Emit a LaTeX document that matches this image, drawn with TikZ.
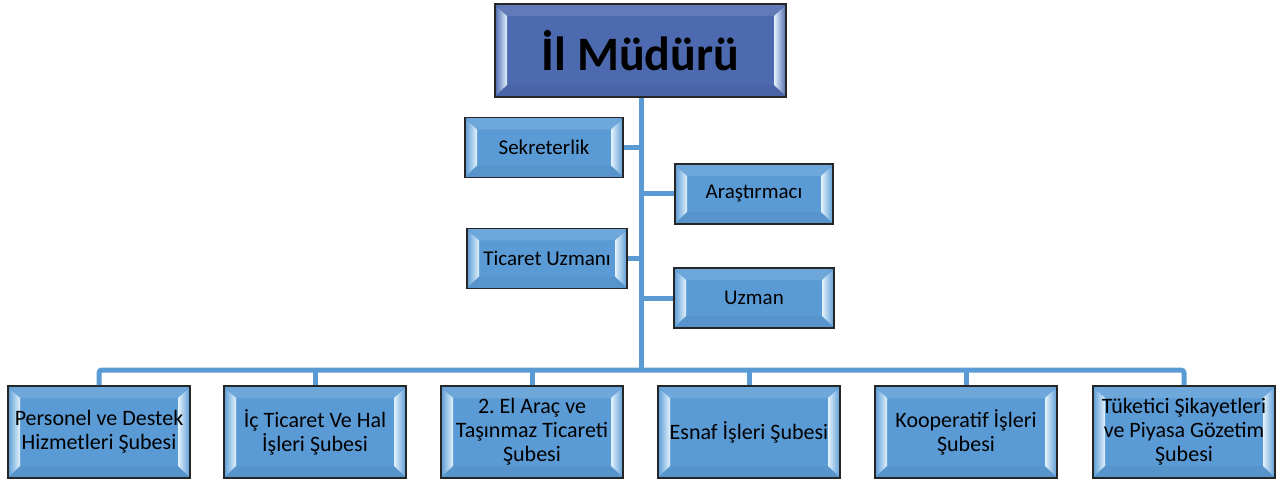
\documentclass[tikz,border=0pt]{standalone}
\usepackage{fontspec}
\setmainfont{Carlito}
\frenchspacing

\definecolor{unitblue}{HTML}{5B9BD5}
\definecolor{headblue}{HTML}{4D69AF}
\definecolor{bevelhi}{HTML}{E4F3FC}
\definecolor{linkblue}{HTML}{5B9BD5}

\tikzset{
  bevelbox/.style={draw=black!85, line width=1.6pt, fill=#1, inner sep=1pt, align=flush center,
    path picture={
      \fill[#1!85!black, opacity=0.3]
        ([yshift=-1pt]path picture bounding box.south west)
        -- ([xshift=12pt,yshift=12pt]path picture bounding box.south west)
        -- ([xshift=-12pt,yshift=12pt]path picture bounding box.south east)
        -- ([yshift=-1pt]path picture bounding box.south east) -- cycle;
      \fill[white, opacity=0.12]
        ([yshift=1pt]path picture bounding box.north west)
        -- ([xshift=12pt,yshift=-12pt]path picture bounding box.north west)
        -- ([xshift=-12pt,yshift=-12pt]path picture bounding box.north east)
        -- ([yshift=1pt]path picture bounding box.north east) -- cycle;
      \shade[left color=#1, right color=bevelhi]
        ([xshift=0pt,yshift=-1pt]path picture bounding box.north west)
        -- ([xshift=12pt,yshift=-12pt]path picture bounding box.north west)
        -- ([xshift=12pt,yshift=12pt]path picture bounding box.south west)
        -- ([xshift=0pt,yshift=1pt]path picture bounding box.south west) -- cycle;
      \shade[left color=bevelhi, right color=#1]
        ([xshift=0pt,yshift=-1pt]path picture bounding box.north east)
        -- ([xshift=-12pt,yshift=-12pt]path picture bounding box.north east)
        -- ([xshift=-12pt,yshift=12pt]path picture bounding box.south east)
        -- ([xshift=0pt,yshift=1pt]path picture bounding box.south east) -- cycle;
    }},
  unit/.style={bevelbox=unitblue, font=\fontsize{21}{24}\selectfont},
  staff/.style={unit, minimum width=158pt, minimum height=60pt},
  branch/.style={unit, font=\fontsize{22}{24}\selectfont, minimum width=182pt, minimum height=92pt, text width=180pt},
  link/.style={draw=linkblue, line width=5pt},
}

\begin{document}
\begin{tikzpicture}[x=1pt,y=-1pt]
\useasboundingbox (0,0) rectangle (1277,481);

% top
\node[bevelbox=headblue, minimum width=291pt, minimum height=93pt,
      font=\fontsize{48}{52}\selectfont\bfseries] (mudur) at (640.5,50.5) {İl Müdürü};

% staff units
\node[staff] (sekreter)    at (544,147.5) {Sekreterlik};
\node[staff] (arastirmaci) at (754,194)   {Araştırmacı};
\node[staff, minimum width=160pt] (ticuzman) at (547,258.5) {Ticaret Uzmanı};
\node[staff, minimum width=160pt] (uzman)    at (754,298)   {Uzman};

% branches
\node[branch] (sube1) at (99,432)   {Personel ve Destek\\Hizmetleri Şubesi};
\node[branch] (sube2) at (315,432)  {İç Ticaret Ve Hal\\İşleri Şubesi};
\node[branch] (sube3) at (532,432)  {2. El Araç ve\\Taşınmaz Ticareti\\Şubesi};
\node[branch] (sube4) at (749,432)  {Esnaf İşleri Şubesi};
\node[branch] (sube5) at (966,432)  {Kooperatif İşleri\\Şubesi};
\node[branch] (sube6) at (1184,432) {Tüketici Şikayetleri\\ve Piyasa Gözetim\\Şubesi};

\coordinate (bus) at (641,370);

\draw[link] (mudur.south -| bus) -- (bus);
\draw[link] (sekreter.east) -- (sekreter.east -| bus);
\draw[link] (ticuzman.east) -- (ticuzman.east -| bus);
\draw[link] (arastirmaci.west) -- (arastirmaci.west -| bus);
\draw[link] (uzman.west) -- (uzman.west -| bus);
\draw[link, rounded corners=3pt] (sube1.north) |- (bus) -| (sube6.north);
\draw[link] (sube2.north) -- (sube2.north |- bus);
\draw[link] (sube3.north) -- (sube3.north |- bus);
\draw[link] (sube4.north) -- (sube4.north |- bus);
\draw[link] (sube5.north) -- (sube5.north |- bus);
\end{tikzpicture}
\end{document}
